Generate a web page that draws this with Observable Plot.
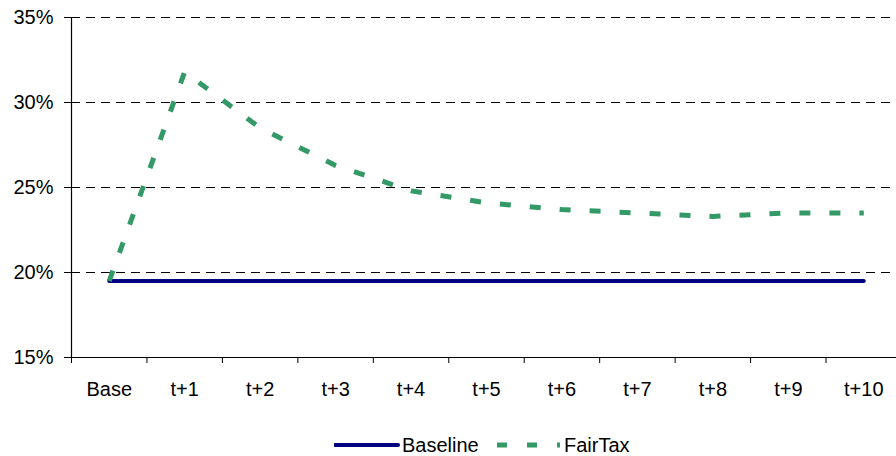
<!DOCTYPE html>
<html>
<head>
<meta charset="utf-8">
<script src="https://cdn.jsdelivr.net/npm/d3@7"></script>
<script src="https://cdn.jsdelivr.net/npm/@observablehq/plot@0.6"></script>
<style>
  html, body { margin: 0; padding: 0; background: #fff; overflow: hidden; }
  body { width: 896px; height: 456px; font-family: "Liberation Sans", Arial, sans-serif; }
  #legend { position: relative; height: 36px; font-size: 20px; color: #000; }
  .item { position: absolute; top: 7px; height: 36px; display: flex; align-items: center; }
  .item svg { display: block; }
</style>
</head>
<body>
<div id="chart"></div>
<div id="legend"></div>
<script>
const categories = ["Base", "t+1", "t+2", "t+3", "t+4", "t+5", "t+6", "t+7", "t+8", "t+9", "t+10"];
const baseline = [19.5, 19.5, 19.5, 19.5, 19.5, 19.5, 19.5, 19.5, 19.5, 19.5, 19.5];
const fairtax = [19.5, 31.8, 28.5, 26.3, 24.8, 24.1, 23.7, 23.5, 23.3, 23.5, 23.5];
const yTicks = [15, 20, 25, 30, 35];
const gridTicks = [20, 25, 30, 35];
const seriesNames = ["Baseline", "FairTax"];

const data = [];
categories.forEach((c, i) => {
  data.push({i, cat: c, series: "Baseline", value: baseline[i]});
});
categories.forEach((c, i) => {
  data.push({i, cat: c, series: "FairTax", value: fairtax[i]});
});
const boundaries = d3.range(-0.5, categories.length, 1);

const chart = Plot.plot({
  width: 896,
  height: 420,
  marginTop: 17,
  marginBottom: 63,
  marginLeft: 71,
  marginRight: 0,
  style: {fontFamily: "'Liberation Sans', Arial, sans-serif", fontSize: "20px", color: "#000", background: "#fff"},
  x: {type: "linear", domain: [-0.5, categories.length - 0.5], range: [71, 901]},
  y: {domain: [15, 35], range: [357, 17]},
  marks: [
    Plot.ruleY(gridTicks, {stroke: "#000", strokeWidth: 1, strokeDasharray: "9,6"}),
    Plot.ruleY([15], {stroke: "#000", strokeWidth: 1.2}),
    Plot.ruleX([-0.5], {stroke: "#000", strokeWidth: 1.2}),
    Plot.axisY({ticks: yTicks, tickFormat: d => d + "%", tickSize: 7, tickPadding: 11, label: null, stroke: "#000", fill: "#000"}),
    Plot.axisX({ticks: boundaries, tickSize: 6, tickFormat: () => "", label: null, stroke: "#000"}),
    Plot.axisX({ticks: d3.range(categories.length), tickSize: 0, tickPadding: 24, tickFormat: i => categories[i], label: null, fill: "#000"}),
    Plot.line(data.filter(d => d.series === "Baseline"), {x: "i", y: "value", stroke: "#000080", strokeWidth: 4, strokeLinecap: "round"}),
    Plot.line(data.filter(d => d.series === "FairTax"), {x: "i", y: "value", stroke: "#339966", strokeWidth: 5, strokeDasharray: "11,19", strokeLinecap: "butt"})
  ]
});
document.getElementById("chart").appendChild(chart);

// Legend
const legend = document.getElementById("legend");
function addItem(left, name, stroke, width, dash) {
  const item = document.createElement("div");
  item.className = "item";
  item.style.left = left + "px";
  const sw = d3.create("svg").attr("width", 66).attr("height", 12);
  sw.append("line").attr("x1", 1).attr("x2", 64).attr("y1", 6).attr("y2", 6)
    .attr("stroke", stroke).attr("stroke-width", width)
    .attr("stroke-dasharray", dash || null)
    .attr("stroke-linecap", dash ? "butt" : "round");
  item.appendChild(sw.node());
  const t = document.createElement("span");
  t.textContent = name;
  t.style.marginLeft = "2px";
  item.appendChild(t);
  legend.appendChild(item);
}
addItem(334, seriesNames[0], "#000080", 4, null);
addItem(496, seriesNames[1], "#339966", 5, "10,20");
</script>
</body>
</html>
